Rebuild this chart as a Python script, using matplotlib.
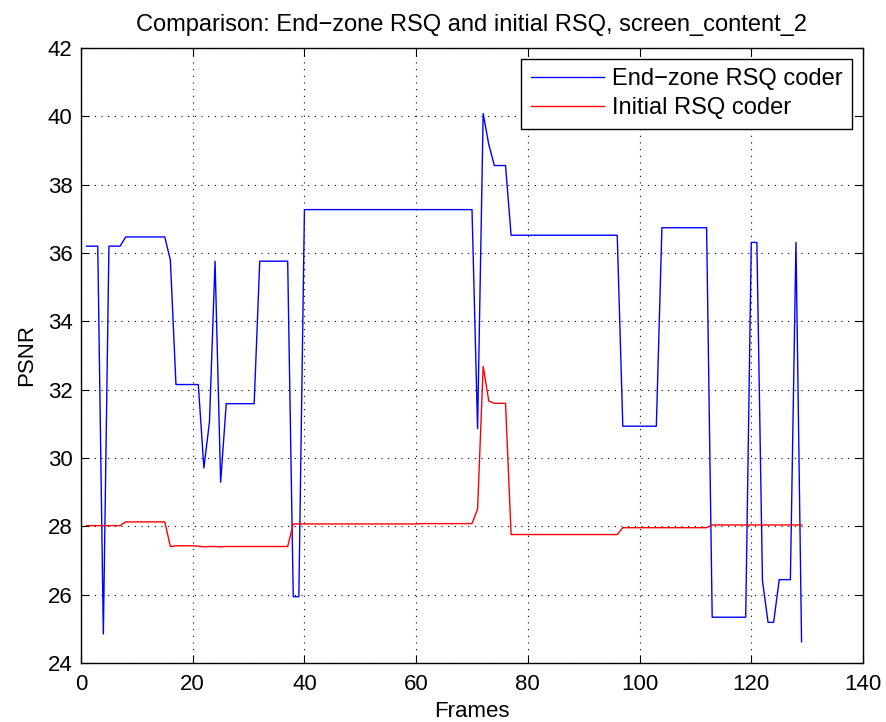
import matplotlib.pyplot as plt
import numpy as np

plt.rcParams['font.family'] = ['Liberation Sans', 'DejaVu Sans']

frames = np.arange(1, 130)

# End-zone RSQ coder, PSNR per frame (frames 1..129)
endzone_psnr = [
    36.20, 36.20, 36.20, 24.85, 36.20, 36.20, 36.20, 36.47, 36.47, 36.47,
    36.47, 36.47, 36.47, 36.47, 36.47, 35.79, 32.15, 32.15, 32.15, 32.15,
    32.15, 29.71, 31.06, 35.76, 29.29, 31.59, 31.59, 31.59, 31.59, 31.59,
    31.59, 35.76, 35.76, 35.76, 35.76, 35.76, 35.76, 25.94, 25.94, 37.27,
    37.27, 37.27, 37.27, 37.27, 37.27, 37.27, 37.27, 37.27, 37.27, 37.27,
    37.27, 37.27, 37.27, 37.27, 37.27, 37.27, 37.27, 37.27, 37.27, 37.27,
    37.27, 37.27, 37.27, 37.27, 37.27, 37.27, 37.27, 37.27, 37.27, 37.27,
    30.86, 40.08, 39.18, 38.56, 38.56, 38.56, 36.52, 36.52, 36.52, 36.52,
    36.52, 36.52, 36.52, 36.52, 36.52, 36.52, 36.52, 36.52, 36.52, 36.52,
    36.52, 36.52, 36.52, 36.52, 36.52, 36.52, 30.93, 30.93, 30.93, 30.93,
    30.93, 30.93, 30.93, 36.74, 36.74, 36.74, 36.74, 36.74, 36.74, 36.74,
    36.74, 36.74, 25.34, 25.34, 25.34, 25.34, 25.34, 25.34, 25.34, 36.31,
    36.31, 26.41, 25.19, 25.19, 26.44, 26.44, 26.44, 36.31, 24.62,
]

# Initial RSQ coder
initial_psnr = [
    28.02, 28.02, 28.02, 28.02, 28.02, 28.02, 28.02, 28.13, 28.13, 28.13,
    28.13, 28.13, 28.13, 28.13, 28.13, 27.41, 27.43, 27.43, 27.43, 27.43,
    27.42, 27.40, 27.41, 27.41, 27.40, 27.41, 27.41, 27.41, 27.41, 27.41,
    27.41, 27.41, 27.41, 27.41, 27.41, 27.41, 27.41, 28.07, 28.07, 28.07,
    28.07, 28.07, 28.07, 28.07, 28.07, 28.07, 28.07, 28.07, 28.07, 28.07,
    28.07, 28.07, 28.07, 28.07, 28.07, 28.07, 28.07, 28.07, 28.07, 28.07,
    28.08, 28.08, 28.08, 28.08, 28.08, 28.08, 28.08, 28.08, 28.08, 28.08,
    28.51, 32.68, 31.67, 31.60, 31.60, 31.60, 27.76, 27.76, 27.76, 27.76,
    27.76, 27.76, 27.76, 27.76, 27.76, 27.76, 27.76, 27.76, 27.76, 27.76,
    27.76, 27.76, 27.76, 27.76, 27.76, 27.76, 27.96, 27.96, 27.96, 27.96,
    27.96, 27.96, 27.96, 27.96, 27.96, 27.96, 27.96, 27.96, 27.96, 27.96,
    27.96, 27.96, 28.04, 28.04, 28.04, 28.04, 28.04, 28.04, 28.04, 28.04,
    28.04, 28.04, 28.04, 28.04, 28.04, 28.04, 28.04, 28.04, 28.04,
]

fig = plt.figure(figsize=(8.86, 7.22), dpi=100)
ax = fig.add_axes([81 / 886, 59 / 722, 782 / 886, 615 / 722])

ax.plot(frames, endzone_psnr, color='#0000ff', lw=1.0, label='End\u2212zone RSQ coder')
ax.plot(frames, initial_psnr, color='#ff0000', lw=1.0, label='Initial RSQ coder')

ax.set_xlim(0, 140)
ax.set_ylim(24, 42)
ax.set_xticks(np.arange(0, 141, 20))
ax.set_yticks(np.arange(24, 43, 2))
ax.tick_params(direction='in', top=True, right=True, labelsize=16, length=6, width=0.8)
ax.tick_params(axis='x', pad=8)
ax.tick_params(axis='y', pad=6)
ax.grid(True, color='black', linestyle=(0, (1, 5)), linewidth=0.8)
for s in ax.spines.values():
    s.set_linewidth(1.0)

ax.set_xlabel('Frames', fontsize=16, labelpad=4)
ax.set_ylabel('PSNR', fontsize=16, labelpad=8)
ax.set_title('Comparison: End\u2212zone RSQ and initial RSQ, screen_content_2', fontsize=17, pad=12)

leg = ax.legend(loc='upper right', fontsize=17, fancybox=False, framealpha=1,
                edgecolor='black', borderpad=0.4, handlelength=3.1, handletextpad=0.35,
                labelspacing=0.3, borderaxespad=0.45)
leg.get_frame().set_linewidth(1.0)

fig.savefig('out.png', dpi=100)
